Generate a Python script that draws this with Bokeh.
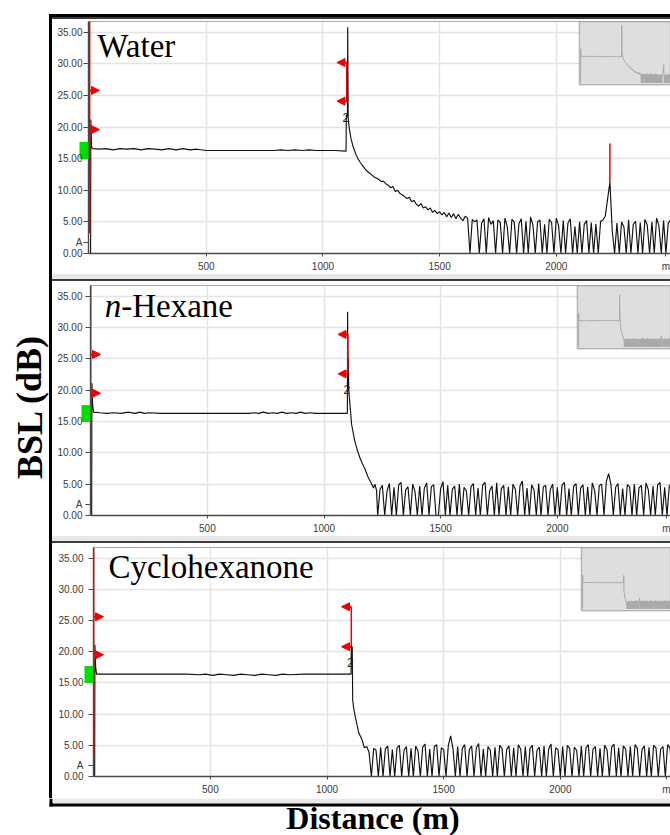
from bokeh.plotting import figure
from bokeh.layouts import column, row
from bokeh.models import (Range1d, FixedTicker, PrintfTickFormatter, BoxAnnotation,
                          Label, Arrow, NormalHead, Span, Spacer)
from bokeh.core.properties import value
from bokeh.embed import file_html
from bokeh.resources import INLINE

# ---------------- data ----------------
y_ticks = [0, 5, 10, 15, 20, 25, 30, 35]
x_ticks = [500, 1000, 1500, 2000]
x_tick_labels = ["500", "1000", "1500", "2000"]
unit_label = "m"
y_title = "BSL (dB)"
x_title = "Distance (m)"
panel_names = ["Water", "n-Hexane", "Cyclohexanone"]

trail_step = 10  # sampling step (m) of the trailing part of each trace

# Water
water_front_d = [0, 4, 5, 8, 12, 40, 70, 100, 130, 160, 190, 220, 250, 280, 310, 340, 370,
                 400, 430, 460, 500, 600, 700, 790, 820, 850, 880, 910, 940, 970, 1000, 1050,
                 1099, 1100, 1105, 1106, 1108, 1112]
water_front_v = [0, 0, 21.2, 16.9, 16.6, 16.5, 16.6, 16.4, 16.6, 16.5, 16.6, 16.4, 16.6, 16.5,
                 16.4, 16.6, 16.4, 16.6, 16.4, 16.5, 16.3, 16.3, 16.3, 16.3, 16.4, 16.3, 16.4,
                 16.3, 16.4, 16.3, 16.3, 16.3, 16.2, 21.9, 21.9, 35.8, 21.5, 20.0]
water_trail_start = 1120
water_trail_v = [18.2, 16.8, 15.8, 15.0, 14.4, 13.9, 13.4, 13.0, 12.7, 12.4,
                 12.1, 11.9, 11.7, 11.4, 11.4,
                 11.0, 10.8, 10.4, 10.6, 9.8, 10.0, 9.5, 9.3, 9.0, 8.7,
                 8.9, 8.2, 8.4, 7.8, 7.5, 7.9, 7.2, 7.4, 6.9, 7.2,
                 6.5, 6.8, 6.3, 6.6, 6.1, 6.5, 5.8, 6.4, 5.7, 6.3,
                 5.5, 6.2, 5.6, 5.2, 5.9,
                 5.6, 0, 5.4, 5.0, 5.3, 0, 4.8, 5.5, 0, 5.7,
                 4.6, 5.2, 0, 5.3, 4.9, 0, 5.6, 4.2, 0, 5.4,
                 5.0, 0, 4.7, 5.5, 0, 5.1, 0, 5.8, 4.5, 0,
                 5.0, 5.3, 0, 4.6, 0, 5.4, 4.9, 0, 5.6, 4.4,
                 0, 5.2, 0, 4.8, 5.5, 0, 4.3, 0, 5.0, 0,
                 4.6, 5.2, 0, 4.9, 0, 4.7, 0, 5.1, 5.3, 5.9,
                 8.6, 11.3, 3.6, 0, 4.8, 0, 5.0, 4.2, 0, 5.3,
                 0, 4.6, 5.1, 0, 4.9, 0, 5.4, 4.5, 0, 5.0,
                 0, 5.6, 4.4, 0, 5.2, 0, 4.8, 5.3]

# n-Hexane
hexane_front_d = [0, 4, 5, 8, 12, 40, 70, 100, 130, 160, 190, 210, 230, 250, 300, 400, 500,
                  600, 680, 700, 720, 740, 760, 780, 800, 820, 840, 860, 880, 900, 920, 940,
                  960, 980, 1000, 1050, 1100, 1101, 1103, 1104, 1106, 1118, 1131, 1142, 1153,
                  1164, 1175, 1189, 1203, 1212, 1218, 1225]
hexane_front_v = [0, 0, 21.1, 17.8, 16.5, 16.4, 16.3, 16.4, 16.3, 16.5, 16.3, 16.5, 16.3, 16.4,
                  16.3, 16.3, 16.3, 16.3, 16.3, 16.4, 16.3, 16.5, 16.3, 16.4, 16.3, 16.5, 16.3,
                  16.4, 16.3, 16.5, 16.3, 16.4, 16.3, 16.3, 16.3, 16.3, 16.3, 32.5, 20.0, 25.1,
                  20.0, 14.6, 12.0, 10.5, 9.3, 8.3, 7.45, 6.1, 5.1, 4.4, 5.0, 4.0]
hexane_trail_start = 1230
hexane_trail_v = [0, 4.2, 4.8, 0, 3.9, 5.1, 0, 4.5, 0, 4.9,
                  5.3, 0, 4.1, 4.6, 0, 5.0, 3.8, 0, 4.7, 0,
                  4.4, 5.2, 0, 4.6, 4.9, 0, 0, 4.3, 5.4, 0,
                  4.8, 0, 4.2, 4.7, 0, 5.0, 0, 4.5, 3.9, 0,
                  4.6, 5.1, 0, 4.4, 0, 4.9, 5.3, 0, 4.0, 4.7,
                  0, 5.2, 0, 4.3, 4.8, 0, 4.6, 0, 5.0, 4.2,
                  0, 4.7, 5.5, 0, 4.4, 0, 4.9, 4.1, 0, 5.1,
                  0, 4.6, 4.8, 0, 4.2, 5.0, 0, 4.5, 0, 4.8,
                  5.3, 0, 4.3, 0, 4.7, 5.1, 0, 4.4, 4.9, 0,
                  4.6, 0, 5.2, 4.0, 0, 4.8, 5.0, 0, 5.4, 6.7,
                  4.9, 0, 4.5, 5.1, 0, 4.3, 0, 4.9, 4.6, 0,
                  5.0, 0, 4.4, 4.8, 0, 5.2, 4.1, 0, 4.7, 0,
                  4.9, 5.3, 0, 4.5, 0, 4.8, 5.0]

# Cyclohexanone
cyclo_front_d = [0, 4, 5, 8, 12, 50, 100, 200, 300, 400, 450, 480, 510, 540, 570, 600, 630,
                 660, 690, 720, 750, 780, 810, 840, 900, 1000, 1103, 1104, 1108, 1110, 1114,
                 1121, 1136, 1150, 1160]
cyclo_front_v = [0, 0, 21.1, 17.6, 16.4, 16.4, 16.4, 16.4, 16.4, 16.4, 16.3, 16.4, 16.2, 16.4,
                 16.3, 16.2, 16.4, 16.3, 16.2, 16.4, 16.3, 16.2, 16.4, 16.3, 16.4, 16.4, 16.4,
                 20.8, 20.8, 12.3, 11.0, 9.6, 7.0, 5.9, 4.6]
cyclo_trail_start = 1170
cyclo_trail_v = [4.8, 3.9, 0, 4.5, 4.2, 0, 4.7, 0, 4.4, 4.9,
                 0, 4.3, 0, 4.6, 5.0, 0, 4.2, 4.8, 0, 4.5,
                 0, 4.9, 4.1, 0, 4.7, 5.2, 0, 4.4, 0, 4.8,
                 5.1, 0, 4.6, 4.3, 0, 5.0, 6.5, 4.4, 0, 4.8,
                 0, 4.5, 5.1, 0, 4.3, 4.9, 0, 4.6, 5.3, 0,
                 4.4, 0, 4.8, 4.2, 0, 4.7, 0, 5.0, 4.5, 0,
                 4.3, 4.9, 0, 4.6, 0, 5.1, 4.4, 0, 4.8, 0,
                 4.5, 5.0, 0, 4.2, 4.7, 0, 4.9, 0, 4.4, 5.2,
                 0, 4.6, 4.3, 0, 4.8, 0, 5.0, 4.5, 0, 4.7,
                 4.2, 0, 4.9, 0, 4.6, 5.1, 0, 4.4, 4.8, 0,
                 4.5, 0, 5.0, 4.3, 0, 4.7, 5.2, 0, 4.6, 0,
                 4.9, 4.4, 0, 4.8, 0, 5.1, 4.5, 0, 4.3, 4.9,
                 0, 4.7, 0, 5.0, 4.6, 0, 4.4, 4.8, 0, 5.1,
                 4.5, 0, 4.8]

# markers
launch_marker_bottom = [3.2, 3.5, 3.2]
launch_arrow_levels = [[25.8, 19.6], [25.7, 19.5], [25.6, 19.5]]
event_marker_x = [1102, 1102, 1104]
event_marker_levels = [[30.2, 24.1], [28.9, 22.6], [27.2, 20.8]]
event_label_level = [21.5, 20.1, 18.2]
water_reflection_x = 2230
water_reflection_levels = [11.3, 17.4]
launch_block = [15.0, 17.7]     # green launch block beside the axis (dB)
start_label = "A"
start_label_level = 1.7         # dB
event_label = "2"

# ---------------- style / geometry ----------------
SERIF = "Liberation Serif"
SANS = "Liberation Sans"
RED = "#ee0000"
PX_PER_M = 0.2333
Y_TOP = 36.7
INSET_SX = 0.0373
INSET_SY = 1.6
INSET_ZERO_DY = 61.3
FIG_W = 618

geoms = [
    dict(left=36, standoff=-3, top=2, bottom=21, x0=-5, unit_x=2470, inset_dx=492,
         title=(33, 32.8)),
    dict(left=38, standoff=-1, top=4, bottom=21, x0=-1, unit_x=2470, inset_dx=488,
         title=(60, 33.5)),
    dict(left=41, standoff=1, top=4, bottom=22, x0=-1, unit_x=2455, inset_dx=489,
         title=(63, 33.6)),
]


def series(front_d, front_v, start, trail_v):
    d = list(front_d) + [start + trail_step * i for i in range(len(trail_v))]
    v = list(front_v) + list(trail_v)
    return d, v


traces = [
    series(water_front_d, water_front_v, water_trail_start, water_trail_v),
    series(hexane_front_d, hexane_front_v, hexane_trail_start, hexane_trail_v),
    series(cyclo_front_d, cyclo_front_v, cyclo_trail_start, cyclo_trail_v),
]


def make_panel(i, height):
    g = geoms[i]
    d, v = traces[i]
    frame_w = FIG_W - g["left"]
    frame_h = height - g["top"] - g["bottom"]
    px_per_db = frame_h / Y_TOP
    p = figure(width=FIG_W, height=height,
               x_range=Range1d(g["x0"], g["x0"] + frame_w / PX_PER_M),
               y_range=Range1d(0, Y_TOP),
               output_backend="svg", toolbar_location=None,
               min_border_left=g["left"], min_border_right=0,
               min_border_top=g["top"], min_border_bottom=g["bottom"],
               outline_line_color=None, background_fill_color="white",
               border_fill_color="white")
    ix0 = -g["inset_dx"] / INSET_SX
    p.extra_x_ranges = {"ix": Range1d(ix0, ix0 + frame_w / INSET_SX)}
    p.extra_y_ranges = {"iy": Range1d(-(frame_h - INSET_ZERO_DY) / INSET_SY,
                                      INSET_ZERO_DY / INSET_SY)}

    # x axis
    p.xaxis.ticker = FixedTicker(ticks=x_ticks + [g["unit_x"]])
    ov = {t: l for t, l in zip(x_ticks, x_tick_labels)}
    ov[g["unit_x"]] = unit_label
    p.xaxis.major_label_overrides = ov
    p.xaxis.minor_tick_line_color = None
    p.xaxis.major_tick_out = 3
    p.xaxis.major_label_standoff = 4
    # y axis: the "A" start label sits beside the axis, the green launch block is a
    # single wide minor tick
    blk_c = (launch_block[0] + launch_block[1]) / 2
    blk_h = (launch_block[1] - launch_block[0]) * px_per_db
    p.yaxis.ticker = FixedTicker(ticks=y_ticks + [start_label_level], minor_ticks=[blk_c])
    p.yaxis.formatter = PrintfTickFormatter(format="%.2f")
    p.yaxis.major_label_overrides = {start_label_level: start_label}
    p.yaxis.major_tick_out = 5
    p.yaxis.minor_tick_out = 9
    p.yaxis.minor_tick_in = 0
    p.yaxis.minor_tick_line_width = blk_h
    p.yaxis.minor_tick_line_color = "#00dd00"
    p.yaxis.major_label_standoff = g["standoff"]
    p.xgrid.ticker = FixedTicker(ticks=x_ticks)
    p.ygrid.ticker = FixedTicker(ticks=y_ticks[1:])
    p.grid.grid_line_color = "#e4e4e4"
    p.grid.grid_line_width = 1.5
    p.axis.major_tick_in = 0
    p.axis.axis_line_color = "#4a4a4a"
    p.axis.axis_line_width = 1.4
    p.axis.major_tick_line_color = "#4a4a4a"
    p.axis.major_label_text_font = SANS
    p.axis.major_label_text_font_size = "10px"
    p.axis.major_label_text_color = "#3a3a3a"
    p.add_layout(Span(location=Y_TOP, dimension="width", line_color="#555555", line_width=1.2))

    # inset overview
    p.add_layout(BoxAnnotation(left=-30, bottom=-1.2, x_range_name="ix", y_range_name="iy",
                               fill_color="#dedede", fill_alpha=1.0,
                               line_color="#3a3a3a", line_width=1.5))
    p.line(d, v, x_range_name="ix", y_range_name="iy", line_color="#a9a9a9",
           line_width=1, level="overlay")

    # trace
    p.line(d, v, line_color="#111111", line_width=1.15)

    # launch markers
    p.segment(x0=[0], y0=[launch_marker_bottom[i]], x1=[0], y1=[Y_TOP + 1],
              line_color=RED, line_width=1.5)
    for lev in launch_arrow_levels[i]:
        p.add_layout(Arrow(end=NormalHead(size=8, fill_color=RED, line_color=RED, line_width=1),
                           x_start=0, y_start=lev, x_end=42, y_end=lev,
                           line_color=RED, line_width=2))
    ex = event_marker_x[i]
    hi, lo = event_marker_levels[i]
    p.segment(x0=[ex], y0=[lo], x1=[ex], y1=[hi], line_color=RED, line_width=1.5)
    for lev in (hi, lo):
        p.add_layout(Arrow(end=NormalHead(size=8, fill_color=RED, line_color=RED, line_width=1),
                           x_start=ex, y_start=lev, x_end=ex - 42, y_end=lev,
                           line_color=RED, line_width=2))
    if i == 0:
        p.segment(x0=[water_reflection_x], y0=[water_reflection_levels[0]],
                  x1=[water_reflection_x], y1=[water_reflection_levels[1]],
                  line_color=RED, line_width=1.5)

    p.add_layout(Label(x=ex - 4, y=event_label_level[i], text=event_label, text_font=SANS,
                       text_font_size="12px", text_align="center",
                       text_baseline="middle", text_color="#222222"))

    tx, ty = g["title"]
    name = panel_names[i]
    if name.startswith("n-"):
        p.add_layout(Label(x=tx, y=ty, text="n", text_font=SERIF, text_font_size="33px",
                           text_font_style="italic", text_baseline="middle",
                           text_color="black"))
        p.add_layout(Label(x=tx, y=ty, x_offset=16.5, text=name[1:], text_font=SERIF,
                           text_font_size="33px", text_baseline="middle",
                           text_color="black"))
    else:
        p.add_layout(Label(x=tx, y=ty, text=name, text_font=SERIF, text_font_size="33px",
                           text_baseline="middle", text_color="black"))
    return p


def bar(w, h, color):
    return Spacer(width=w, height=h, styles={"background-color": color})


FIG_H = 255
blocks = []
for i in range(3):
    p = make_panel(i, FIG_H)
    parts = [bar(618, 2, "#3c3c3c"), p]
    if i < 2:
        parts.append(bar(618, 5, "#e8e8e8"))
    blocks.append(column(*parts))

ROW_H = 784
panels = column(bar(618, 3, "#000000"), *blocks)

ylab = figure(width=49, height=ROW_H, x_range=Range1d(0, 49), y_range=Range1d(0, ROW_H),
              x_axis_type=None, y_axis_type=None, output_backend="svg",
              toolbar_location=None, min_border=0, outline_line_color=None)
ylab.text(x=[29], y=[392], text=[y_title], angle=1.5708, text_font=value(SERIF),
          text_font_style="bold", text_font_size="36px", text_align="center",
          text_baseline="middle", text_color="black")

# bottom strip: last panel's grey band, the frame's bottom edge and the x title
XL_H = 37
xlab = figure(width=670, height=XL_H, x_range=Range1d(0, 670), y_range=Range1d(0, XL_H),
              x_axis_type=None, y_axis_type=None, output_backend="svg",
              toolbar_location=None, min_border=0, outline_line_color=None)
xlab.add_layout(BoxAnnotation(left=52, right=670, bottom=XL_H - 5, top=XL_H,
                              fill_color="#e8e8e8", fill_alpha=1.0, line_color=None))
xlab.add_layout(BoxAnnotation(left=49, right=670, bottom=XL_H - 8, top=XL_H - 5,
                              fill_color="#000000", fill_alpha=1.0, line_color=None))
xlab.add_layout(BoxAnnotation(left=49, right=52, bottom=XL_H - 8, top=XL_H,
                              fill_color="#000000", fill_alpha=1.0, line_color=None))
xlab.text(x=[372.5], y=[18], text=[x_title], text_font=value(SERIF),
          text_font_style="bold", text_font_size="32px", text_align="center",
          text_baseline="middle", text_color="black")

root = column(Spacer(width=670, height=14),
              row(ylab, bar(3, ROW_H, "#000000"), panels),
              xlab)

open("out.html", "w").write(file_html(root, INLINE))
